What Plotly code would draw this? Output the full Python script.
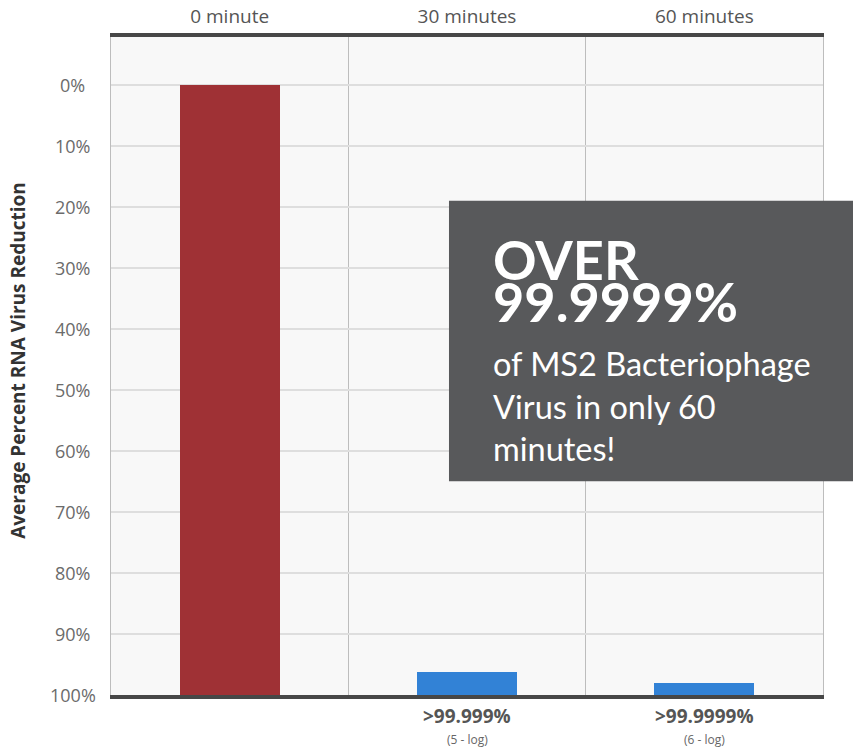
import plotly.graph_objects as go

# ---- data ----
categories = ["0 minute", "30 minutes", "60 minutes"]
reduction_top = [0.0, 96.2, 98.0]        # top edge of each bar on the reversed % axis
bar_colors = ["#9f3135", "#3282d6", "#3282d6"]
y_ticks = [0, 10, 20, 30, 40, 50, 60, 70, 80, 90, 100]
y_tick_labels = [f"{v}%" for v in y_ticks]
bottom_labels = ["", ">99.999%", ">99.9999%"]
bottom_sublabels = ["", "(5 - log)", "(6 - log)"]
callout_lines = ["OVER", "99.9999%", "of MS2 Bacteriophage", "Virus in only 60", "minutes!"]

x_pos = list(range(len(categories)))
bar_len = [100 - t for t in reduction_top]

fig = go.Figure()
fig.add_trace(go.Bar(
    x=x_pos, y=bar_len, base=reduction_top,
    marker=dict(color=bar_colors, line=dict(width=0)),
    width=0.42, hoverinfo="skip", showlegend=False,
))

FONT = "Open Sans"
annotations = []
# y tick labels (centered)
for v, lab in zip(y_ticks, y_tick_labels):
    annotations.append(dict(x=-0.0534, xref="paper", y=v, yref="y", text=lab,
                            showarrow=False, xanchor="center", yanchor="middle",
                            font=dict(family=FONT, size=18, color="#6b6b6b")))
# bottom labels
for xi, (a, b) in enumerate(zip(bottom_labels, bottom_sublabels)):
    if a:
        annotations.append(dict(x=xi, xref="x", y=-0.032, yref="paper", text=f"<b>{a}</b>",
                                showarrow=False, xanchor="center", yanchor="middle",
                                font=dict(family=FONT, size=19, color="#555555")))
        annotations.append(dict(x=xi, xref="x", y=-0.067, yref="paper", text=b,
                                showarrow=False, xanchor="center", yanchor="middle",
                                font=dict(family=FONT, size=12, color="#666666")))
# y title
annotations.append(dict(x=-0.131, xref="paper", y=0.509, yref="paper",
                        text="<b>Average Percent RNA Virus Reduction</b>", textangle=-90,
                        showarrow=False, xanchor="center", yanchor="middle",
                        font=dict(family=FONT, size=19, color="#333333")))
# callout text
cy = [0.662, 0.598, 0.504, 0.439, 0.374]
for i, (line, yy) in enumerate(zip(callout_lines, cy)):
    big = i < 2
    annotations.append(dict(x=0.5337, xref="paper", y=yy, yref="paper",
                            text=f"<b>{line}</b>" if big else line,
                            showarrow=False, xanchor="left", yanchor="middle",
                            font=dict(family="Lato", size=54 if big else 32.5, color="#ffffff")))

fig.update_layout(
    width=853, height=748,
    margin=dict(l=111, r=30, t=37, b=53, autoexpand=False),
    paper_bgcolor="#ffffff",
    plot_bgcolor="#f8f8f8",
    bargap=0,
    xaxis=dict(
        range=[-0.5, 2.5], side="top", automargin=False,
        tickvals=x_pos, ticktext=categories,
        tickfont=dict(family=FONT, size=19, color="#555555"),
        ticks="", showgrid=False, zeroline=False,
        showline=True, linewidth=4, linecolor="#474747", mirror=True,
        minor=dict(tickvals=[0.5, 1.5], showgrid=True, gridcolor="#bdbdbd", gridwidth=1, ticks=""),
        fixedrange=True, ticklabelstandoff=2,
    ),
    yaxis=dict(
        range=[100, -7.87], automargin=False,
        tickvals=y_ticks, showticklabels=False,
        showgrid=True, gridcolor="#dedede", gridwidth=1.5,
        zeroline=False, showline=True, linewidth=1, linecolor="#bdbdbd", mirror=True,
        fixedrange=True,
    ),
    shapes=[dict(type="rect", xref="paper", yref="paper",
                 x0=0.4747, x1=1.05, y0=0.325, y1=0.751,
                 fillcolor="#58595b", line=dict(width=0), layer="above")],
    annotations=annotations,
)

fig.write_html("out.html", config={"displayModeBar": False},
               post_script="document.body.style.margin='0px';document.body.style.overflow='hidden';")
